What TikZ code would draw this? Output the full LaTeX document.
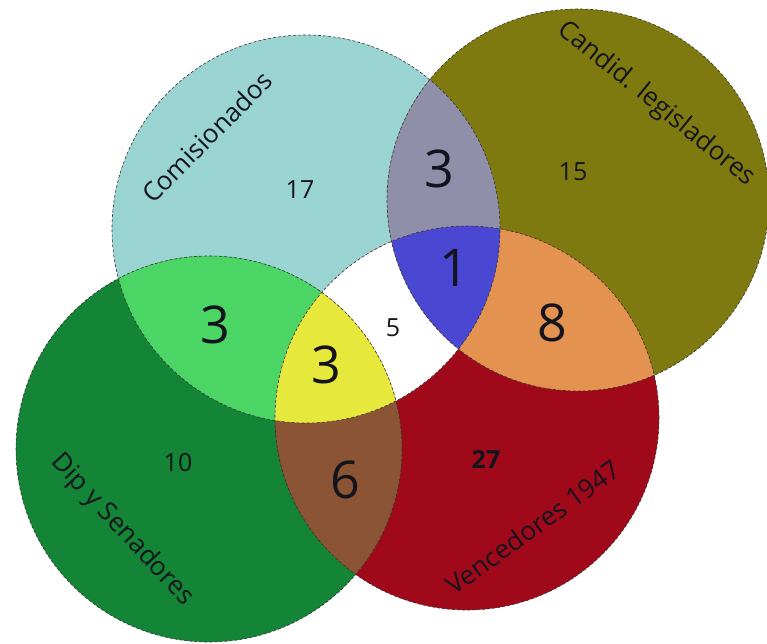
\documentclass[tikz,border=0pt]{standalone}
\usepackage{fontspec}
\setmainfont{Open Sans}
\definecolor{comcol}{RGB}{154,212,210}
\definecolor{candcol}{RGB}{126,122,16}
\definecolor{dipcol}{RGB}{20,132,55}
\definecolor{venccol}{RGB}{160,9,26}
\definecolor{comcand}{RGB}{144,143,170}
\definecolor{comcandvenc}{RGB}{74,71,210}
\definecolor{candvenc}{RGB}{227,146,79}
\definecolor{comdip}{RGB}{74,213,100}
\definecolor{comdipvenc}{RGB}{230,232,59}
\definecolor{dipvenc}{RGB}{139,84,52}
\definecolor{inkcol}{RGB}{20,20,30}
\begin{document}
\begin{tikzpicture}[x=1pt,y=-1pt,
  setline/.style={draw=black!80, densely dashed, line width=0.6pt},
  smallnum/.style={font=\fontsize{25}{30}\selectfont, inner sep=0pt, text=inkcol},
  bignum/.style={font=\fontsize{52}{60}\selectfont, inner sep=0pt, text=inkcol},
  setlabel/.style={font=\fontsize{26}{30}\selectfont, inner sep=0pt, text=inkcol}]
\useasboundingbox (0,0) rectangle (767,644);
\fill[white] (0,0) rectangle (767,644);
\def\rCom{194pt}
\def\rCand{191pt}
\def\rDip{193pt}
\def\rVenc{192pt}
\coordinate (com) at (306,229);
\coordinate (cand) at (578,200);
\coordinate (dip) at (209,449);
\coordinate (venc) at (467,418);
% single sets
\fill[comcol] (com) circle[radius=\rCom];
\fill[candcol] (cand) circle[radius=\rCand];
\fill[dipcol] (dip) circle[radius=\rDip];
\fill[venccol] (venc) circle[radius=\rVenc];
% pairs
\begin{scope}
  \clip (com) circle[radius=\rCom];
  \fill[comcand] (cand) circle[radius=\rCand];
  \fill[comdip] (dip) circle[radius=\rDip];
  \fill[white] (venc) circle[radius=\rVenc];
\end{scope}
\begin{scope}
  \clip (venc) circle[radius=\rVenc];
  \fill[candvenc] (cand) circle[radius=\rCand];
  \fill[dipvenc] (dip) circle[radius=\rDip];
\end{scope}
% triples
\begin{scope}
  \clip (com) circle[radius=\rCom];
  \clip (cand) circle[radius=\rCand];
  \fill[comcandvenc] (venc) circle[radius=\rVenc];
\end{scope}
\begin{scope}
  \clip (com) circle[radius=\rCom];
  \clip (dip) circle[radius=\rDip];
  \fill[comdipvenc] (venc) circle[radius=\rVenc];
\end{scope}
% outlines
\draw[setline] (com) circle[radius=\rCom];
\draw[setline] (cand) circle[radius=\rCand];
\draw[setline] (dip) circle[radius=\rDip];
\draw[setline] (venc) circle[radius=\rVenc];
% labels
\node[setlabel, rotate=45] (lcom) at (207,137) {Comisionados};
\node[setlabel, rotate=-39] (lcand) at (656,104) {Candid. legisladores};
\node[setlabel, rotate=-47] (ldip) at (122,530) {Dip y Senadores};
\node[setlabel, rotate=36] (lvenc) at (533,527) {Vencedores 1947};
% numbers
\node[smallnum] (n17) at (300,190) {17};
\node[smallnum] (n15) at (573,172) {15};
\node[smallnum] (n10) at (178,463) {10};
\node[smallnum] (n5) at (393,328) {5};
\node[smallnum, font=\fontsize{25}{30}\selectfont\bfseries] (n27) at (486,459) {27};
\node[bignum] (n3a) at (439,169) {3};
\node[bignum] (n1) at (454,268) {1};
\node[bignum] (n8) at (552,323) {8};
\node[bignum] (n3b) at (215,325) {3};
\node[bignum] (n3c) at (326,365) {3};
\node[bignum] (n6) at (345,480) {6};
\end{tikzpicture}
\end{document}
